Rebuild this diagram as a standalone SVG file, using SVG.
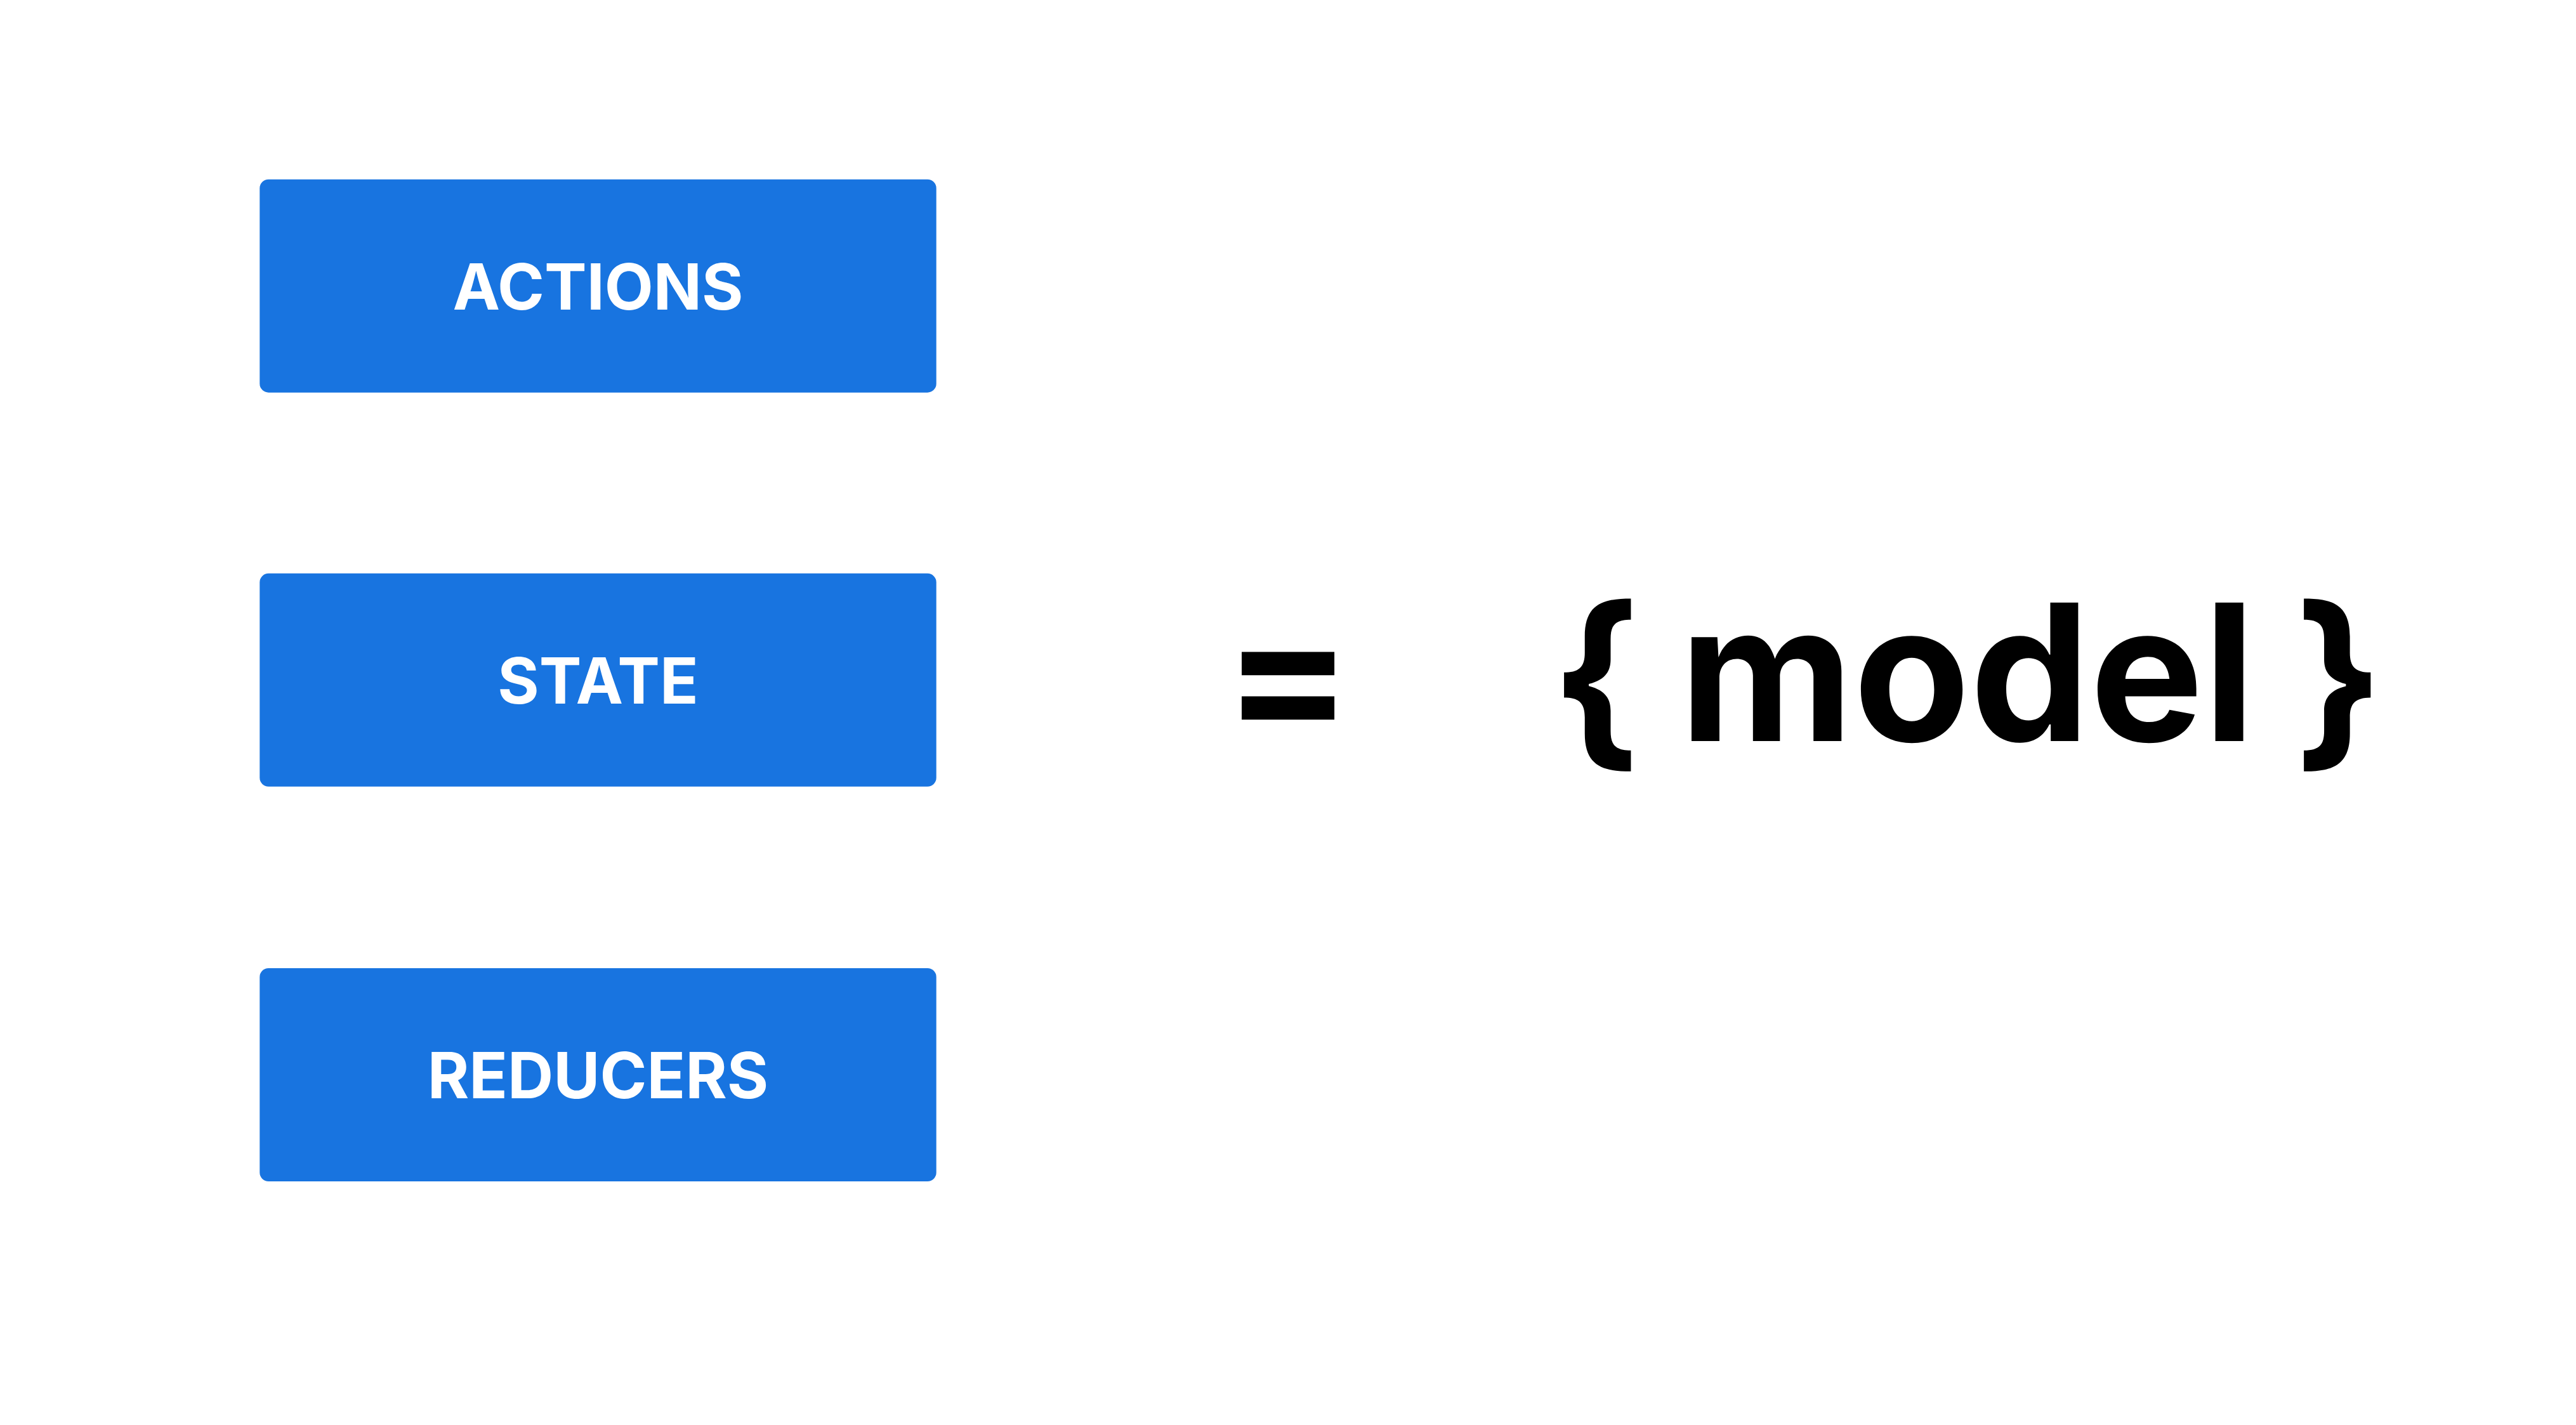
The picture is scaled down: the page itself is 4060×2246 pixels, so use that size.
<svg xmlns="http://www.w3.org/2000/svg" width="4060" height="2246" viewBox="0 0 4060 2246">
<style>
.box{fill:#1874E0;}
.lbl{font-family:Inter,"Liberation Sans",sans-serif;font-weight:700;font-size:100px;fill:#ffffff;text-anchor:middle;}
.big{font-family:Inter,"Liberation Sans",sans-serif;font-weight:700;font-size:300px;fill:#000000;text-anchor:middle;}
</style>
<rect x="0" y="0" width="4060" height="2246" fill="#ffffff"/>
<g id="actions">
<rect class="box" x="409.3" y="282.7" width="1066.4" height="336" rx="14" ry="14"/>
<text class="lbl" x="942.5" y="487.7">ACTIONS</text>
</g>
<g id="state">
<rect class="box" x="409.3" y="903.8" width="1066.4" height="336" rx="14" ry="14"/>
<text class="lbl" x="942.5" y="1109">STATE</text>
</g>
<g id="reducers">
<rect class="box" x="409.3" y="1526" width="1066.4" height="336" rx="14" ry="14"/>
<text class="lbl" x="942.5" y="1731">REDUCERS</text>
</g>
<g id="equals">
<text class="big" x="2030" y="1168">=</text>
</g>
<g id="model">
<text class="big" x="3100.7" y="1168"><tspan dy="7">{</tspan><tspan dy="-7"> </tspan><tspan dx="-9">model </tspan><tspan dx="-9" dy="7">}</tspan></text>
</g>
<g id="connectors"></g>
</svg>
